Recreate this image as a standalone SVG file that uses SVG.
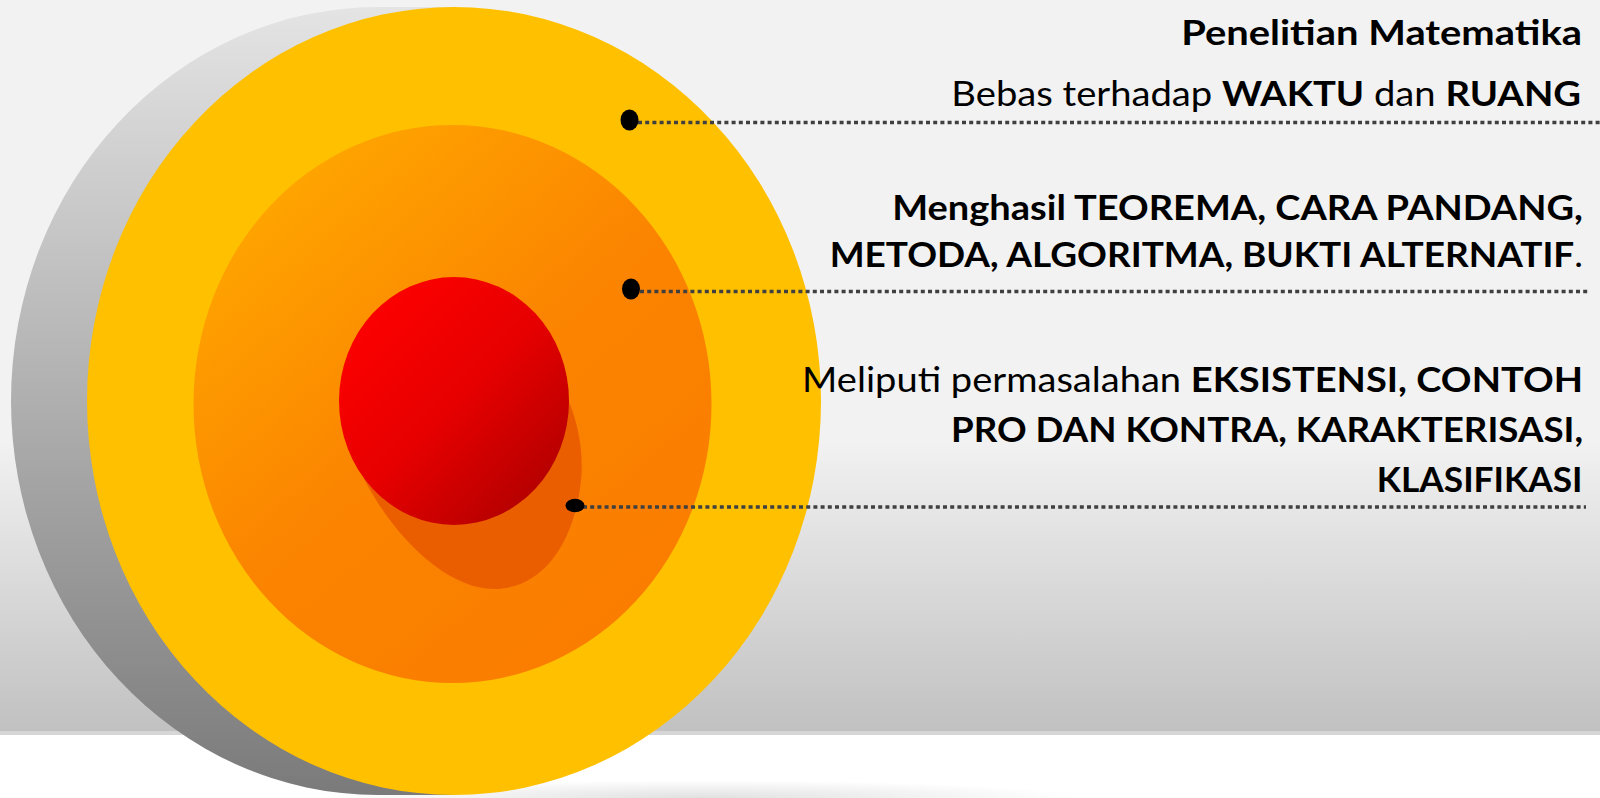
<svg xmlns="http://www.w3.org/2000/svg" width="1600" height="798" viewBox="0 0 1600 798">
  <defs>
    <linearGradient id="bgGrad" x1="0" y1="0" x2="0" y2="731" gradientUnits="userSpaceOnUse">
      <stop offset="0" stop-color="#f2f2f2"/>
      <stop offset="0.6" stop-color="#f2f2f2"/>
      <stop offset="1" stop-color="#c1c1c1"/>
    </linearGradient>
    <linearGradient id="greyGrad" x1="0" y1="7" x2="0" y2="796" gradientUnits="userSpaceOnUse">
      <stop offset="0" stop-color="#e4e4e4"/>
      <stop offset="1" stop-color="#7a7a7a"/>
    </linearGradient>
    <linearGradient id="orangeGrad" x1="250" y1="170" x2="650" y2="640" gradientUnits="userSpaceOnUse">
      <stop offset="0" stop-color="#ffa800"/>
      <stop offset="0.5" stop-color="#fb8400"/>
      <stop offset="1" stop-color="#fa7c00"/>
    </linearGradient>
    <linearGradient id="redGrad" x1="360" y1="300" x2="560" y2="500" gradientUnits="userSpaceOnUse">
      <stop offset="0" stop-color="#ff0000"/>
      <stop offset="0.5" stop-color="#e60000"/>
      <stop offset="1" stop-color="#ad0000"/>
    </linearGradient>
    <radialGradient id="floorShadow" cx="0.5" cy="0.5" r="0.5">
      <stop offset="0" stop-color="#000" stop-opacity="0.12"/>
      <stop offset="1" stop-color="#000" stop-opacity="0"/>
    </radialGradient>
    <style>
      .t { font-family: "Lato", "Liberation Sans", sans-serif; fill: #000; text-anchor: end; }
      .b { font-weight: bold; }
      .s { font-size: 34px; }
      .l { font-size: 35px; }
      .dotline { stroke: #404040; stroke-width: 3.3; stroke-dasharray: 4 3.2; fill: none; }
      .dot { fill: #000; }
    </style>
  </defs>

  <g id="background">
    <rect x="0" y="0" width="1600" height="798" fill="#ffffff"/>
    <rect x="0" y="0" width="1600" height="731" fill="url(#bgGrad)"/>
    <rect x="0" y="731" width="1600" height="4" fill="#d6d6d6"/>
    <ellipse cx="700" cy="798" rx="380" ry="18" fill="url(#floorShadow)"/>
  </g>

  <g id="disc">
    <ellipse cx="378" cy="401" rx="367" ry="394" fill="url(#greyGrad)"/>
    <rect x="378" y="7" width="76" height="788" fill="url(#greyGrad)"/>
    <ellipse id="outer-ring" cx="454" cy="401" rx="367" ry="394" fill="#ffc000"/>
    <ellipse id="middle-ring" cx="452.5" cy="404" rx="259" ry="279" fill="url(#orangeGrad)"/>
    <path id="core-shadow" d="M 357 463 C 380 520, 440 590, 495 589 C 545 588, 575 540, 581 480 C 584 450, 577 420, 568 400 L 454 401 Z" fill="#ea5e00"/>
    <ellipse id="core" cx="454" cy="401" rx="115" ry="124" fill="url(#redGrad)"/>
  </g>

  <g id="connectors">
    <line class="dotline" x1="638" y1="122.5" x2="1600" y2="122.5"/>
    <line class="dotline" x1="640" y1="291.5" x2="1589" y2="291.5"/>
    <line class="dotline" x1="583" y1="507" x2="1586" y2="507"/>
    <ellipse class="dot" cx="629.5" cy="120" rx="9" ry="10.5"/>
    <ellipse class="dot" cx="631" cy="289" rx="9" ry="10.5"/>
    <ellipse class="dot" cx="575" cy="505.5" rx="9.5" ry="6.8"/>
  </g>

  <g id="label-title">
    <text class="t b s" transform="translate(1582 45) scale(1.174 1)">Penelitian Matematika</text>
  </g>

  <g id="label-outer">
    <text class="t s" transform="translate(1581 105.5) scale(1.123 1)">Bebas terhadap <tspan class="b">WAKTU</tspan> dan <tspan class="b">RUANG</tspan></text>
  </g>

  <g id="label-middle">
    <text class="t b l" transform="translate(1583 220) scale(1.086 1)">Menghasil TEOREMA, CARA PANDANG,</text>
    <text class="t l" transform="translate(1583 267) scale(1.056 1)"><tspan class="b">METODA, ALGORITMA, BUKTI ALTERNATIF</tspan>.</text>
  </g>

  <g id="label-core">
    <text class="t l" transform="translate(1583 391.5) scale(1.088 1)">Meliputi permasalahan <tspan class="b">EKSISTENSI, CONTOH</tspan></text>
    <text class="t b l" transform="translate(1583 441.7) scale(1.049 1)">PRO DAN KONTRA, KARAKTERISASI,</text>
    <text class="t b l" transform="translate(1582.5 491.7) scale(1.008 1)">KLASIFIKASI</text>
  </g>
</svg>
